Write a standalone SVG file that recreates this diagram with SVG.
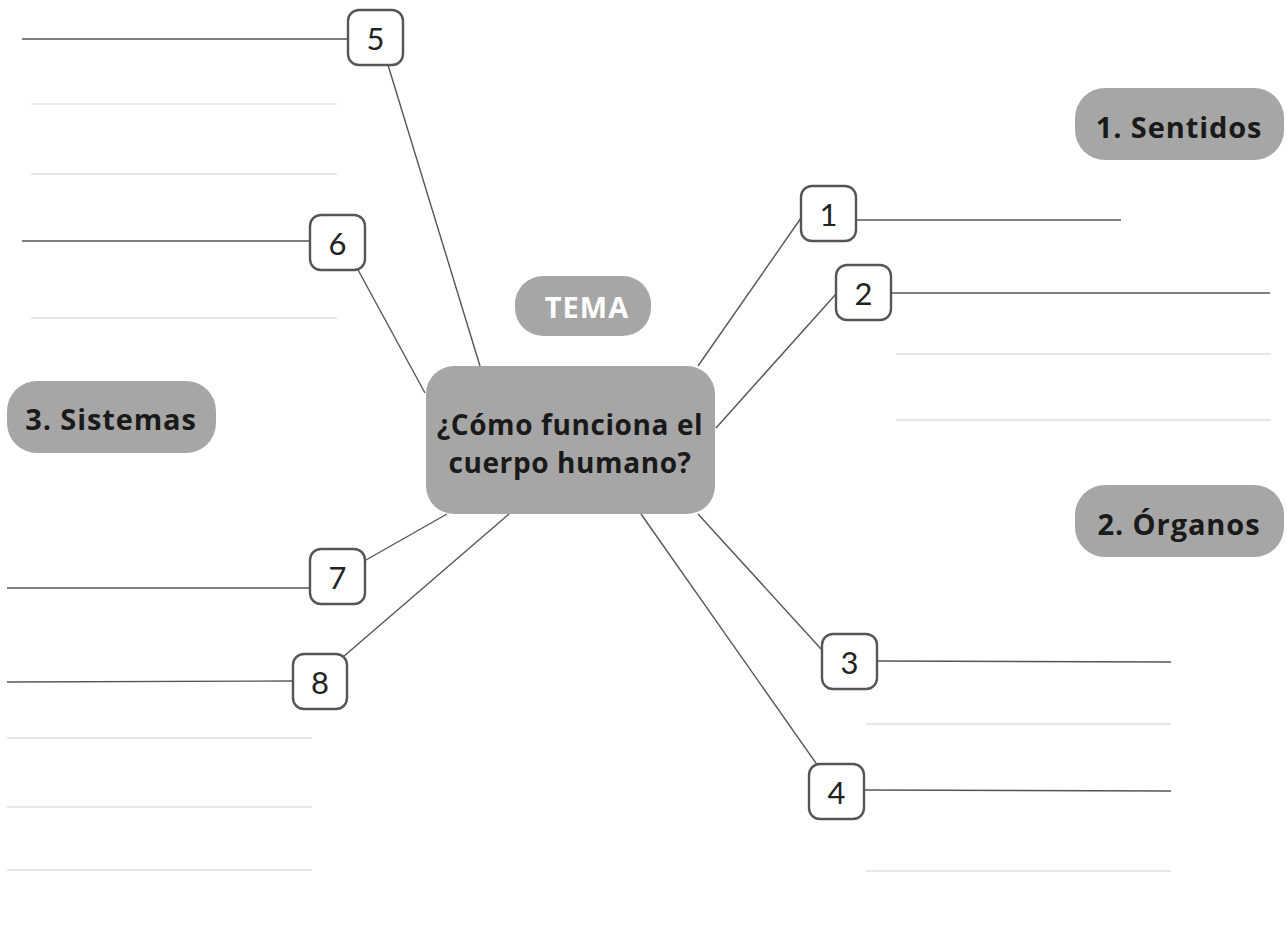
<svg xmlns="http://www.w3.org/2000/svg" width="1287" height="939" viewBox="0 0 1287 939">
<style>
.num rect{fill:#fff;stroke:#555;stroke-width:2.4}
.num text{font-family:Lato,"Open Sans",sans-serif;font-weight:400;font-size:31px;fill:#222;text-anchor:middle}
.dark{stroke:#555;stroke-width:1.4;fill:none}
.light{stroke:#d0d0d0;stroke-width:1.2;fill:none}
.pill{fill:#a6a6a6}
.lbl{font-family:"Open Sans","Noto Sans",sans-serif;font-weight:700;fill:#1a1a1a;text-anchor:middle}
</style>
<rect width="1287" height="939" fill="#fff"/>
<g id="connectors">
<line class="dark" x1="22" y1="39" x2="348" y2="39"/>
<line class="dark" x1="388" y1="65" x2="480" y2="366"/>
<line class="dark" x1="22" y1="241" x2="310" y2="241"/>
<line class="dark" x1="357" y1="268" x2="425" y2="393"/>
<line class="dark" x1="856" y1="220" x2="1121" y2="220"/>
<line class="dark" x1="801" y1="218" x2="698" y2="366"/>
<line class="dark" x1="891" y1="293" x2="1270" y2="293"/>
<line class="dark" x1="836" y1="294" x2="716" y2="428"/>
<line class="dark" x1="877" y1="661" x2="1171" y2="662"/>
<line class="dark" x1="698" y1="514" x2="822" y2="650"/>
<line class="dark" x1="864" y1="790" x2="1171" y2="791"/>
<line class="dark" x1="641" y1="514" x2="818" y2="766"/>
<line class="dark" x1="7" y1="588" x2="310" y2="588"/>
<line class="dark" x1="366" y1="560" x2="447" y2="514"/>
<line class="dark" x1="7" y1="682" x2="293" y2="681"/>
<line class="dark" x1="343" y1="657" x2="509" y2="514"/>
<line class="light" x1="31" y1="104" x2="337" y2="104"/>
<line class="light" x1="31" y1="174" x2="337" y2="174"/>
<line class="light" x1="31" y1="318" x2="337" y2="318"/>
<line class="light" x1="896" y1="354" x2="1271" y2="354"/>
<line class="light" x1="896" y1="420" x2="1271" y2="420"/>
<line class="light" x1="866" y1="724" x2="1171" y2="724"/>
<line class="light" x1="866" y1="871" x2="1171" y2="871"/>
<line class="light" x1="7" y1="738" x2="312" y2="738"/>
<line class="light" x1="7" y1="807" x2="312" y2="807"/>
<line class="light" x1="7" y1="870" x2="312" y2="870"/>
</g>
<g id="center">
<rect class="pill" x="426" y="366" width="289" height="148" rx="28"/>
<text class="lbl" x="570" y="435" font-size="28" letter-spacing="0.6">¿Cómo funciona el</text>
<text class="lbl" x="570" y="473" font-size="28" letter-spacing="0.6">cuerpo humano?</text>
</g>
<g id="tema">
<rect class="pill" x="515" y="276" width="136" height="60" rx="28"/>
<text class="lbl" x="587" y="318" font-size="29" letter-spacing="1" style="fill:#fff">TEMA</text>
</g>
<g id="sentidos">
<rect class="pill" x="1075" y="88" width="209" height="72" rx="30"/>
<text class="lbl" x="1179" y="138" font-size="29" letter-spacing="0.9">1. Sentidos</text>
</g>
<g id="organos">
<rect class="pill" x="1075" y="485" width="209" height="72" rx="30"/>
<text class="lbl" x="1179" y="535" font-size="29" letter-spacing="0.9">2. Órganos</text>
</g>
<g id="sistemas">
<rect class="pill" x="7" y="381" width="209" height="72" rx="30"/>
<text class="lbl" x="111" y="430" font-size="29" letter-spacing="0.9">3. Sistemas</text>
</g>
<g id="n5" class="num"><rect x="348" y="10" width="55" height="55" rx="11"/><text x="375.5" y="50">5</text></g>
<g id="n6" class="num"><rect x="310" y="215" width="55" height="55" rx="11"/><text x="337.5" y="255">6</text></g>
<g id="n1" class="num"><rect x="801" y="186" width="55" height="55" rx="11"/><text x="828.5" y="226">1</text></g>
<g id="n2" class="num"><rect x="836" y="265" width="55" height="55" rx="11"/><text x="863.5" y="305">2</text></g>
<g id="n3" class="num"><rect x="822" y="634" width="55" height="55" rx="11"/><text x="849.5" y="674">3</text></g>
<g id="n4" class="num"><rect x="809" y="764" width="55" height="55" rx="11"/><text x="836.5" y="804">4</text></g>
<g id="n7" class="num"><rect x="310" y="549" width="55" height="55" rx="11"/><text x="337.5" y="589">7</text></g>
<g id="n8" class="num"><rect x="293" y="654" width="54" height="55" rx="11"/><text x="320" y="694">8</text></g>
</svg>
